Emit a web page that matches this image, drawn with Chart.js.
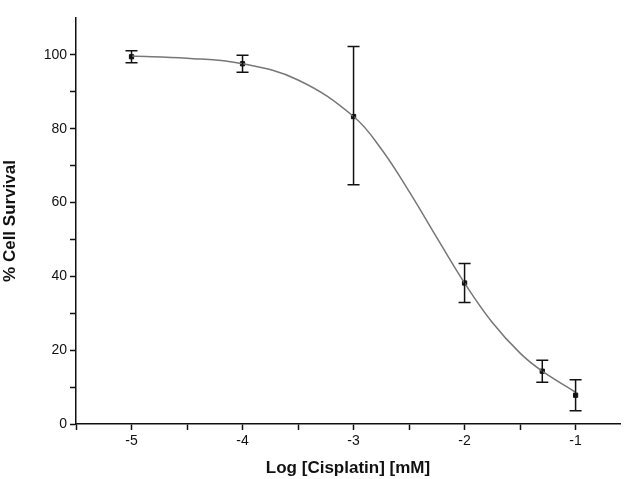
<!DOCTYPE html>
<html>
<head>
<meta charset="utf-8">
<script src="https://cdn.jsdelivr.net/npm/chart.js@4"></script>
<style>
  html, body { margin: 0; padding: 0; background: #fff; }
  #wrap { width: 625px; height: 479px; }
</style>
</head>
<body>
<div id="wrap"><canvas id="myChart"></canvas></div>
<script>
'use strict';

// measured points with error bars
const doseLog = [ -5, -4, -3, -2, -1.3, -1 ];
const survival = [ 99.5, 97.6, 83.3, 38.2, 14.3, 7.8 ];
const errUp = [ 1.6, 2.3, 19, 5.3, 3.0, 4.2 ];
const errDown = [ 1.6, 2.3, 18.5, 5.3, 3.0, 4.2 ];

// fitted curve
const fitX = [ -5, -4.5, -4, -3.5, -3, -2.75, -2.5, -2.25, -2, -1.75, -1.5, -1.3, -1 ];
const fitY = [ 99.7, 99.1, 97.6, 93.2, 83.3, 74.5, 63, 50.5, 38.2, 27.5, 19.2, 14.3, 8.6 ];

const errorBars = {
  id: 'errorBars',
  afterDatasetsDraw( chart ) {
    const ctx = chart.ctx;
    const xs = chart.scales.x;
    const ys = chart.scales.y;
    ctx.save();
    ctx.strokeStyle = '#111';
    ctx.lineWidth = 1.5;
    for ( let i = 0; i < doseLog.length; i++ ) {
      const px = xs.getPixelForValue( doseLog[i] );
      const top = ys.getPixelForValue( survival[i] + errUp[i] );
      const bot = ys.getPixelForValue( survival[i] - errDown[i] );
      ctx.beginPath();
      ctx.moveTo( px, top ); ctx.lineTo( px, bot );
      ctx.moveTo( px - 6, top ); ctx.lineTo( px + 6, top );
      ctx.moveTo( px - 6, bot ); ctx.lineTo( px + 6, bot );
      ctx.stroke();
    }
    ctx.restore();
  }
};

const font = { family: 'Liberation Sans, Arial, sans-serif', size: 14 };

new Chart( document.getElementById( 'myChart' ), {
  type: 'scatter',
  data: {
    datasets: [{
      type: 'line',
      data: fitX.map( ( x, i ) => ( { x: x, y: fitY[i] } ) ),
      borderColor: '#777',
      borderWidth: 1.5,
      pointRadius: 0,
      tension: 0.4,
      fill: false
    }, {
      data: doseLog.map( ( x, i ) => ( { x: x, y: survival[i] } ) ),
      backgroundColor: '#111',
      borderColor: '#111',
      pointStyle: 'rect',
      pointRadius: 3
    }]
  },
  options: {
    responsive: true,
    maintainAspectRatio: false,
    animation: false,
    layout: { padding: { top: 18, right: 0 } },
    plugins: { legend: { display: false }, tooltip: { enabled: false } },
    scales: {
      x: {
        type: 'linear',
        min: -5.5,
        max: -0.6,
        afterFit( s ) { s.height = 55; },
        afterBuildTicks( s ) {
          s.ticks = [ -5.5, -5, -4.5, -4, -3.5, -3, -2.5, -2, -1.5, -1 ].map( v => ( { value: v } ) );
        },
        border: { color: '#111', width: 1.5 },
        grid: { drawOnChartArea: false, tickLength: 6, tickColor: '#111', tickWidth: 1.5 },
        ticks: {
          color: '#111',
          font: font,
          callback: v => Number.isInteger( v ) ? v : ''
        },
        title: {
          display: true,
          text: 'Log [Cisplatin] [mM]',
          color: '#111',
          font: { family: font.family, size: 17, weight: 'bold' },
          padding: { top: 2, bottom: 0 }
        }
      },
      y: {
        min: 0,
        max: 110,
        afterFit( s ) { s.width = 76; },
        afterBuildTicks( s ) {
          s.ticks = [ 0, 10, 20, 30, 40, 50, 60, 70, 80, 90, 100 ].map( v => ( { value: v } ) );
        },
        border: { color: '#111', width: 1.5 },
        grid: { drawOnChartArea: false, tickLength: 6, tickColor: '#111', tickWidth: 1.5 },
        ticks: {
          color: '#111',
          font: font,
          callback: v => v % 20 === 0 ? v : ''
        },
        title: {
          display: true,
          text: '% Cell Survival',
          color: '#111',
          font: { family: font.family, size: 17, weight: 'bold' },
          padding: { top: 0, bottom: 4 }
        }
      }
    }
  },
  plugins: [ errorBars ]
} );
</script>
</body>
</html>
